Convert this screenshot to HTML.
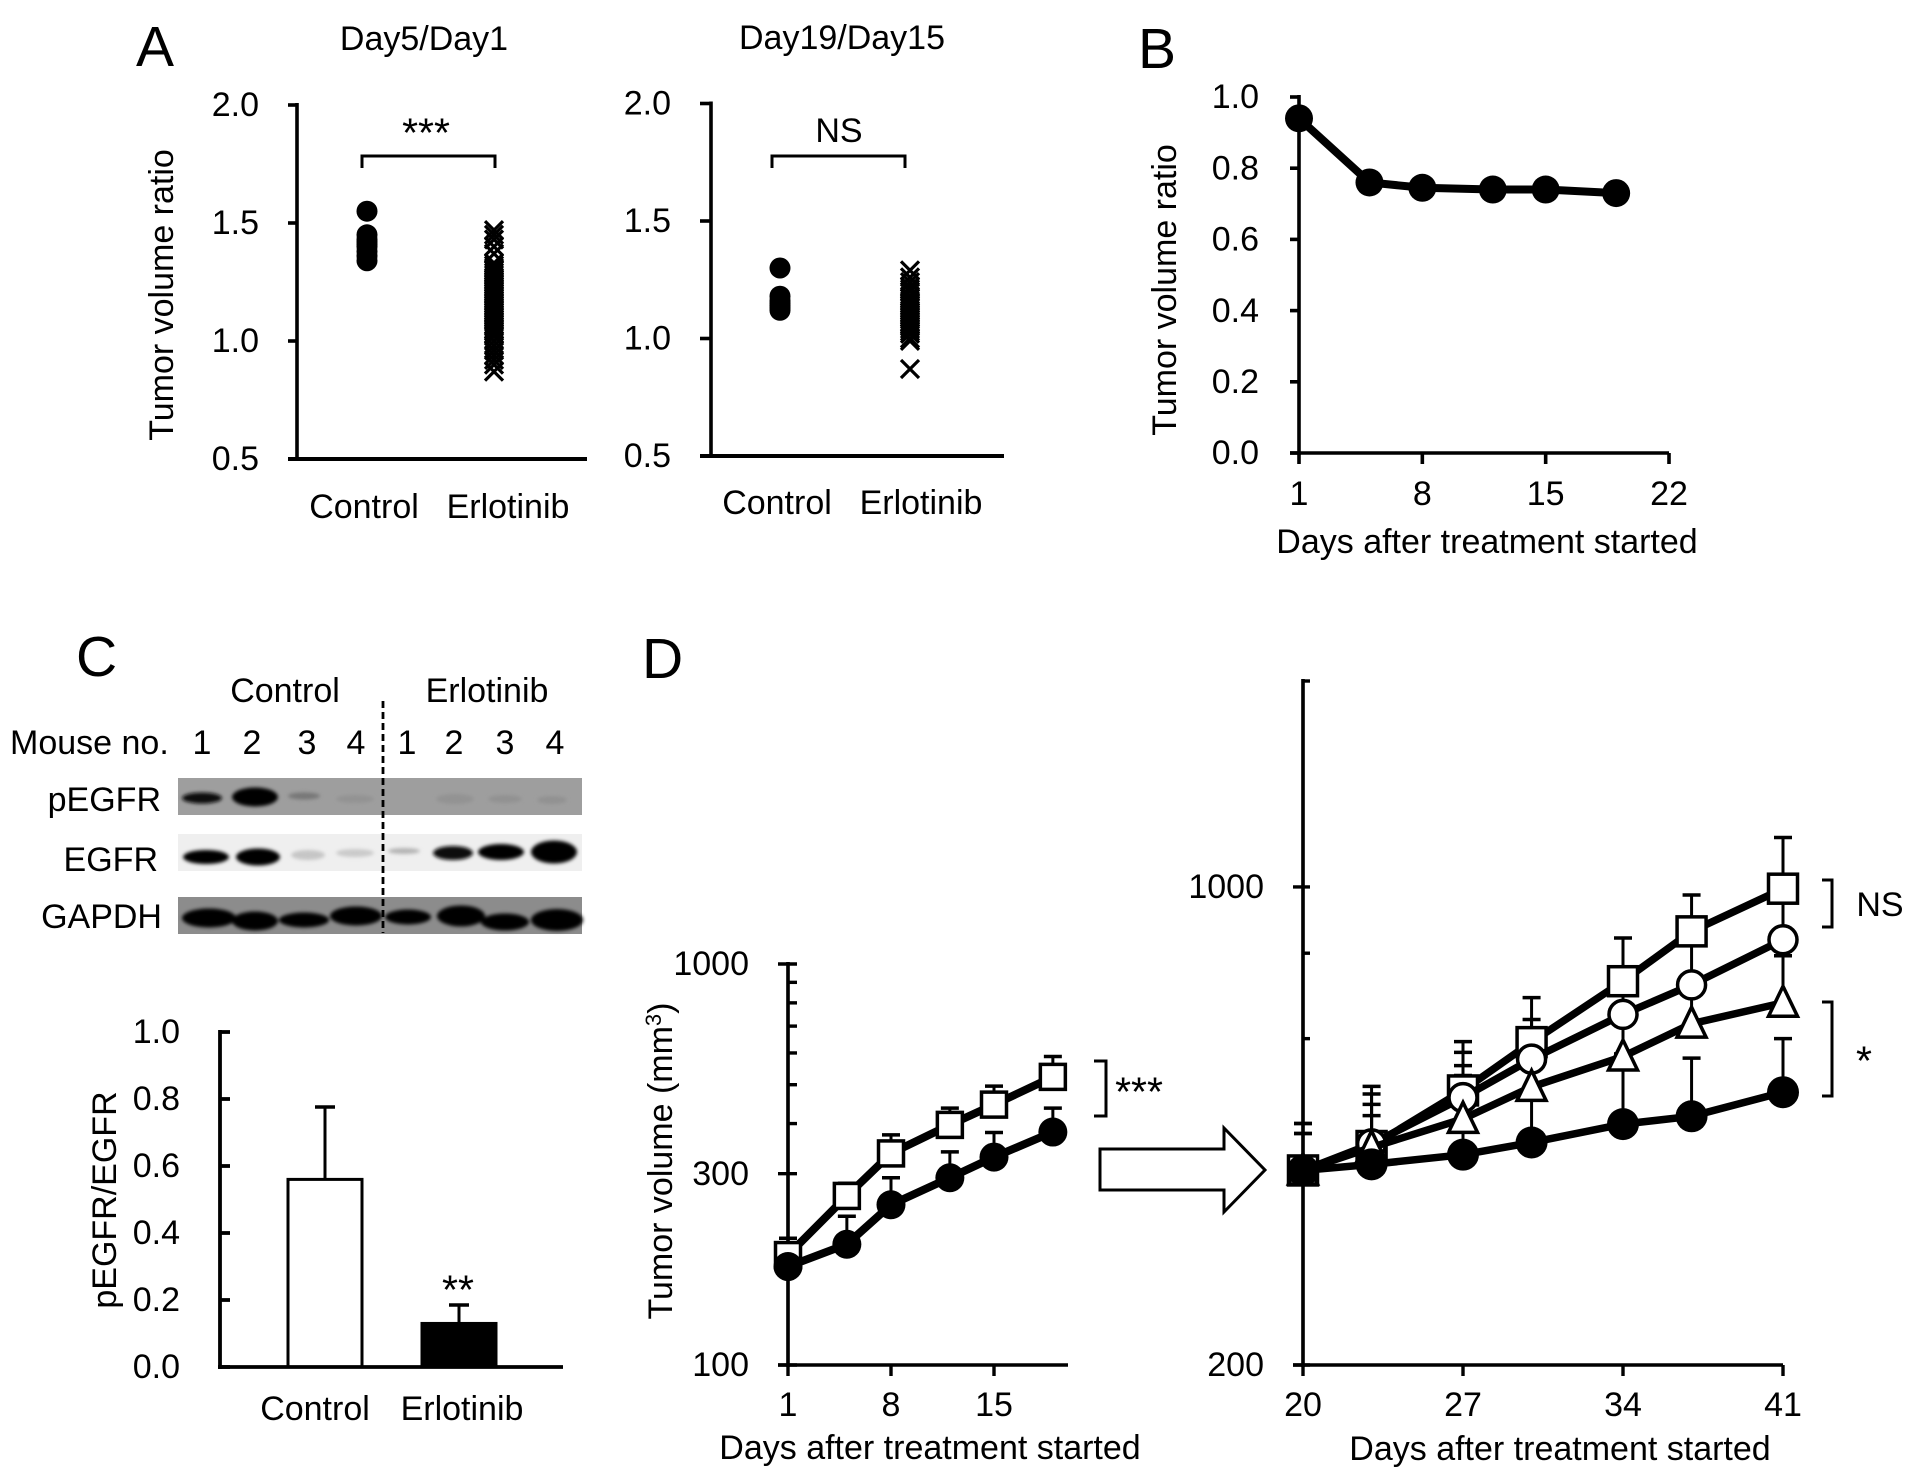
<!DOCTYPE html>
<html>
<head>
<meta charset="utf-8">
<title>Tumor volume figure</title>
<style>
html,body{margin:0;padding:0;background:#fff;}
svg{display:block;}
text{font-family:"Liberation Sans",sans-serif;font-size:34px;fill:#000;}
.letter{font-size:57px;}
.stars{font-size:41px;}
</style>
</head>
<body>
<svg id="fig" xmlns="http://www.w3.org/2000/svg" width="1913" height="1480" viewBox="0 0 1913 1480">
<defs>
<filter id="blur" x="-20%" y="-60%" width="140%" height="220%"><feGaussianBlur stdDeviation="1.8"/></filter>
</defs>
<rect width="1913" height="1480" fill="#fff"/>

<text class="letter" x="136" y="66">A</text>
<text class="letter" x="1138" y="68">B</text>
<text class="letter" x="76" y="676">C</text>
<text class="letter" x="642" y="678">D</text>

<g id="aLeft">
<text x="424" y="39" dy="0.33em" text-anchor="middle">Day5/Day1</text>
<text transform="translate(162,295) rotate(-90)" dy="0.33em" text-anchor="middle">Tumor volume ratio</text>
<path d="M362 168V156H495V168" fill="none" stroke="#000" stroke-width="3"/>
<text class="stars" x="426" y="133" dy="0.33em" text-anchor="middle">***</text>
</g>

<g id="aRight">
<text x="842" y="38" dy="0.33em" text-anchor="middle">Day19/Day15</text>
<path d="M772 168V156H905V168" fill="none" stroke="#000" stroke-width="3"/>
<text x="839" y="131" dy="0.33em" text-anchor="middle">NS</text>
</g>

<g id="bChart">
<text transform="translate(1165,290) rotate(-90)" dy="0.33em" text-anchor="middle">Tumor volume ratio</text>
<text x="1487" y="542" dy="0.33em" text-anchor="middle">Days after treatment started</text>
</g>

<g id="westernBlot">
<text x="285" y="691" dy="0.33em" text-anchor="middle">Control</text>
<text x="487" y="691" dy="0.33em" text-anchor="middle">Erlotinib</text>
<text x="10" y="743" dy="0.33em">Mouse no.</text>
<g text-anchor="middle">
<text x="202" y="743" dy="0.33em">1</text><text x="252" y="743" dy="0.33em">2</text><text x="307" y="743" dy="0.33em">3</text><text x="356" y="743" dy="0.33em">4</text>
<text x="407" y="743" dy="0.33em">1</text><text x="454" y="743" dy="0.33em">2</text><text x="505" y="743" dy="0.33em">3</text><text x="555" y="743" dy="0.33em">4</text>
</g>
<text x="161" y="800" dy="0.33em" text-anchor="end">pEGFR</text>
<text x="158" y="860" dy="0.33em" text-anchor="end">EGFR</text>
<text x="162" y="917" dy="0.33em" text-anchor="end">GAPDH</text>

<g>
<rect x="178" y="778" width="404" height="37" fill="#9e9e9e"/>
<g filter="url(#blur)">
<ellipse cx="202" cy="798" rx="20" ry="5.5" fill="#111"/>
<ellipse cx="255" cy="797" rx="23" ry="9.5" fill="#000"/>
<ellipse cx="304" cy="796" rx="16" ry="3.5" fill="#777"/>
<ellipse cx="355" cy="799" rx="19" ry="4" fill="#939393"/>
<ellipse cx="455" cy="799" rx="19" ry="5" fill="#939393"/>
<ellipse cx="505" cy="799" rx="17" ry="4" fill="#929292"/>
<ellipse cx="552" cy="800" rx="15" ry="4" fill="#929292"/>
</g>
</g>
<g>
<rect x="178" y="834" width="404" height="37" fill="#efefef"/>
<g filter="url(#blur)">
<ellipse cx="206" cy="857" rx="23" ry="7" fill="#000"/>
<ellipse cx="258" cy="857" rx="22" ry="8.5" fill="#000"/>
<ellipse cx="308" cy="855" rx="17" ry="5" fill="#c6c6c6"/>
<ellipse cx="355" cy="853" rx="19" ry="4" fill="#cacaca"/>
<ellipse cx="404" cy="851" rx="16" ry="3" fill="#b4b4b4"/>
<ellipse cx="453" cy="853" rx="20" ry="7" fill="#111"/>
<ellipse cx="501" cy="852" rx="23" ry="8" fill="#000"/>
<ellipse cx="554" cy="852" rx="23" ry="11.5" fill="#000"/>
</g>
</g>
<g>
<rect x="178" y="897" width="404" height="37" fill="#8c8c8c"/>
<g filter="url(#blur)">
<ellipse cx="209" cy="918" rx="27" ry="9.5" fill="#000"/>
<ellipse cx="255" cy="921" rx="23" ry="9.5" fill="#000"/>
<ellipse cx="304" cy="920" rx="25" ry="7.5" fill="#000"/>
<ellipse cx="356" cy="916" rx="26" ry="9.5" fill="#000"/>
<ellipse cx="408" cy="917" rx="23" ry="7.5" fill="#000"/>
<ellipse cx="461" cy="916" rx="24" ry="10.5" fill="#000"/>
<ellipse cx="505" cy="922" rx="24" ry="8.5" fill="#000"/>
<ellipse cx="557" cy="920" rx="26" ry="11" fill="#000"/>
</g>
</g>
<line x1="383" y1="701" x2="383" y2="933" stroke="#000" stroke-width="2.8" stroke-dasharray="7 4"/>
</g>

<g id="cBars">
<text transform="translate(105,1200) rotate(-90)" dy="0.33em" text-anchor="middle">pEGFR/EGFR</text>
<text class="stars" x="458" y="1290" dy="0.33em" text-anchor="middle">**</text>
</g>

<g id="dLeft">
<text transform="translate(661,1161) rotate(-90)" text-anchor="middle" dy="0.33em">Tumor volume (mm<tspan font-size="22" dy="-11">3</tspan><tspan dy="11">)</tspan></text>
<text x="930" y="1448" dy="0.33em" text-anchor="middle">Days after treatment started</text>
</g>

<g id="dRight">
<text x="1560" y="1449" dy="0.33em" text-anchor="middle">Days after treatment started</text>
</g>

<g>
<path d="M1094 1061H1106V1116H1094" fill="none" stroke="#000" stroke-width="3"/>
<text class="stars" x="1139" y="1092" dy="0.33em" text-anchor="middle">***</text>
<path d="M1100 1149H1224V1128L1265 1170L1224 1212V1190H1100Z" fill="#fff" stroke="#000" stroke-width="3"/>
<path d="M1822 880H1832V927H1822" fill="none" stroke="#000" stroke-width="3"/>
<text x="1880" y="905" dy="0.33em" text-anchor="middle">NS</text>
<path d="M1822 1002H1832V1096H1822" fill="none" stroke="#000" stroke-width="3"/>
<text class="stars" x="1864" y="1061" dy="0.33em" text-anchor="middle">*</text>
</g>
</svg>

<script>
// ---------- Panel A data ----------
const aTickLabels = ['0.5', '1.0', '1.5', '2.0'];
const aTickValues = [0.5, 1.0, 1.5, 2.0];
const aCategories = ['Control', 'Erlotinib'];
const aLeftControl = [1.55, 1.45, 1.43, 1.42, 1.41, 1.40, 1.38, 1.36, 1.34];
const aLeftErlotinib = [1.47, 1.45, 1.43, 1.40, 1.37, 1.33, 1.32, 1.31, 1.30, 1.29, 1.28, 1.27, 1.26, 1.25, 1.24, 1.23, 1.22, 1.21, 1.20, 1.19, 1.18, 1.17, 1.16, 1.15, 1.14, 1.13, 1.12, 1.11, 1.10, 1.09, 1.08, 1.07, 1.06, 1.05, 1.04, 1.03, 1.02, 1.00, 0.98, 0.96, 0.94, 0.92, 0.90, 0.87];
const aRightControl = [1.30, 1.18, 1.16, 1.15, 1.14, 1.13, 1.12];
const aRightErlotinib = [1.29, 1.26, 1.24, 1.22, 1.21, 1.20, 1.18, 1.17, 1.16, 1.15, 1.14, 1.13, 1.12, 1.11, 1.10, 1.09, 1.08, 1.07, 1.06, 1.05, 1.04, 1.03, 1.02, 1.00, 0.99, 0.87];

// ---------- Panel B data ----------
const bDays = [1, 5, 8, 12, 15, 19];
const bRatio = [0.94, 0.76, 0.745, 0.74, 0.74, 0.73];
const bYTicks = [0, 0.2, 0.4, 0.6, 0.8, 1.0];
const bYLabels = ['0.0', '0.2', '0.4', '0.6', '0.8', '1.0'];
const bXTicks = [1, 8, 15, 22];

// ---------- Panel C data ----------
const cCategories = ['Control', 'Erlotinib'];
const cValues = [0.56, 0.13];
const cErrors = [0.776, 0.185];
const cYTicks = [0, 0.2, 0.4, 0.6, 0.8, 1.0];
const cYLabels = ['0.0', '0.2', '0.4', '0.6', '0.8', '1.0'];

// ---------- Panel D early data ----------
const dLeftDays = [1, 5, 8, 12, 15, 19];
const dLeftControl = [188, 264, 337, 397, 446, 523];
const dLeftControlErr = [207, 284, 375, 437, 496, 588];
const dLeftErlotinib = [176, 200, 251, 293, 330, 381];
const dLeftErlotinibErr = [180, 235, 293, 340, 380, 437];
const dLeftMajor = [100, 300, 1000];
const dLeftMinor = [400, 500, 600, 700, 800, 900];
const dLeftXTicks = [1, 8, 15];

// ---------- Panel D late data ----------
const dRightDays = [20, 23, 27, 30, 34, 37, 41];
const dRightSquare = [385, 418, 504, 593, 728, 861, 994];
const dRightSquareErr = [451, 511, 594, 689, 842, 973, 1181];
const dRightCircle = [385, 421, 492, 560, 651, 719, 837];
const dRightCircleErr = [451, 498, 573, 640, 740, 830, 960];
const dRightTriangle = [385, 416, 458, 510, 565, 631, 677];
const dRightTriangleErr = [436, 481, 548, 590, 650, 740, 793];
const dRightBlack = [385, 393, 406, 423, 450, 462, 501];
const dRightBlackErr = [436, 463, 530, 560, 570, 562, 600];
const dRightMajor = [200, 1000];
const dRightMinor = [400, 600, 800, 2000];
const dRightXTicks = [20, 27, 34, 41];

const NS = 'http://www.w3.org/2000/svg';
function svgEl(parent, tag, attrs) {
  const el = document.createElementNS(NS, tag);
  for (const k in attrs) el.setAttribute(k, attrs[k]);
  parent.appendChild(el);
  return el;
}
function seg(parent, x1, y1, x2, y2, w) {
  return svgEl(parent, 'line', {x1: x1, y1: y1, x2: x2, y2: y2, stroke: '#000', 'stroke-width': w});
}
function label(parent, x, y, str, anchor) {
  const t = svgEl(parent, 'text', {x: x, y: y, dy: '0.33em', 'text-anchor': anchor});
  t.textContent = str;
  return t;
}
function linear(d0, d1, p0, p1) {
  return function (v) { return p0 + (v - d0) / (d1 - d0) * (p1 - p0); };
}
function logScale(d0, d1, p0, p1) {
  return function (v) { return p0 + Math.log10(v / d0) / Math.log10(d1 / d0) * (p1 - p0); };
}

// Axis helpers
function drawYAxis(parent, x, yTop, yBottom, scale, values, labels, labelRight, tickX1, tickX2, w) {
  const axis = seg(parent, x, yTop - 2, x, yBottom + 2, w);
  
  
  values.forEach(function (v, i) {
    const tick = seg(parent, tickX1, scale(v), tickX2, scale(v), w);
    
    
    if (labels) {
      const lab = label(parent, labelRight, scale(v), labels[i], 'end');
      
      
    }
  });
}
function drawXAxis(parent, y, x1, x2, w) {
  const axis = seg(parent, x1, y, x2, y, w);
  
  
}
function drawXTicks(parent, y, scale, values, tickLen, labelY, w) {
  values.forEach(function (v) {
    const tick = seg(parent, scale(v), y, scale(v), y + tickLen, w);
    
    
    const lab = label(parent, scale(v), labelY, String(v), 'middle');
    
    
  });
}
function drawDot(parent, x, y, r) {
  const c = svgEl(parent, 'circle', {cx: x, cy: y, r: r, fill: '#000'});
  
  
}
function drawCross(parent, x, y, h) {
  const p = svgEl(parent, 'path', {d: 'M' + (x - h) + ' ' + (y - h) + 'L' + (x + h) + ' ' + (y + h) + 'M' + (x + h) + ' ' + (y - h) + 'L' + (x - h) + ' ' + (y + h), stroke: '#000', 'stroke-width': 3.2, fill: 'none'});
  
  
}
function drawLine(parent, days, vals, sx, sy, w) {
  const pts = days.map(function (d, i) { return sx(d) + ',' + sy(vals[i]); }).join(' ');
  const l = svgEl(parent, 'polyline', {points: pts, fill: 'none', stroke: '#000', 'stroke-width': w});
  
  
}
function drawErrors(parent, days, vals, errs, sx, sy, cap) {
  days.forEach(function (d, i) {
    const stem = seg(parent, sx(d), sy(vals[i]), sx(d), sy(errs[i]), 3);
    
    
    const c = seg(parent, sx(d) - cap, sy(errs[i]), sx(d) + cap, sy(errs[i]), 3.5);
    
    
  });
}
function drawMarkers(parent, kind, days, vals, sx, sy, size) {
  days.forEach(function (d, i) {
    const x = sx(d), y = sy(vals[i]), h = size / 2;
    let m;
    if (kind === 'square') {
      m = svgEl(parent, 'rect', {x: x - h, y: y - h, width: size, height: size, fill: '#fff', stroke: '#000', 'stroke-width': 3.5});
    } else if (kind === 'circle') {
      m = svgEl(parent, 'circle', {cx: x, cy: y, r: h, fill: '#fff', stroke: '#000', 'stroke-width': 3.5});
    } else if (kind === 'triangle') {
      m = svgEl(parent, 'path', {d: 'M' + x + ' ' + (y - h - 2) + 'L' + (x + h) + ' ' + (y + h - 1) + 'H' + (x - h) + 'Z', fill: '#fff', stroke: '#000', 'stroke-width': 3.5});
    } else {
      m = svgEl(parent, 'circle', {cx: x, cy: y, r: h, fill: '#000'});
    }
    
    
  });
}
function drawCategoryLabels(parent, cats, xs, y) {
  cats.forEach(function (c, i) {
    const t = label(parent, xs[i], y, c, 'middle');
    
    
  });
}

// Panel A left
(function () {
  const g = document.getElementById('aLeft');
  const y = linear(0.5, 2.0, 459, 105);
  drawYAxis(g, 297, 105, 459, y, aTickValues, aTickLabels, 259, 288, 297, 3.6);
  drawXAxis(g, 459, 288, 587, 4);
  drawCategoryLabels(g, aCategories, [364, 508], 507);
  aLeftControl.forEach(function (v) { drawDot(g, 367, y(v), 10.5); });
  aLeftErlotinib.forEach(function (v) { drawCross(g, 494, y(v), 9); });
})();

// Panel A right
(function () {
  const g = document.getElementById('aRight');
  const y = linear(0.5, 2.0, 456, 103.5);
  drawYAxis(g, 711, 103.5, 456, y, aTickValues, aTickLabels, 671, 700, 711, 3.6);
  drawXAxis(g, 456, 700, 1004, 4);
  drawCategoryLabels(g, aCategories, [777, 921], 503);
  aRightControl.forEach(function (v) { drawDot(g, 780, y(v), 10.5); });
  aRightErlotinib.forEach(function (v) { drawCross(g, 910, y(v), 9); });
})();

// Panel B
(function () {
  const g = document.getElementById('bChart');
  const y = linear(0, 1, 453, 97);
  const x = linear(1, 22, 1299, 1669);
  drawYAxis(g, 1299, 97, 453, y, bYTicks, bYLabels, 1259, 1290, 1299, 3.6);
  drawXAxis(g, 453, 1290, 1669, 3.6);
  drawXTicks(g, 453, x, bXTicks, 11, 494, 3.6);
  drawLine(g, bDays, bRatio, x, y, 8);
  drawMarkers(g, 'black', bDays, bRatio, x, y, 28);
})();

// Panel C bars
(function () {
  const g = document.getElementById('cBars');
  const y = linear(0, 1, 1367, 1032);
  const centers = [325, 459];
  drawYAxis(g, 220, 1032, 1367, y, cYTicks, cYLabels, 180, 220, 230, 3.8);
  drawCategoryLabels(g, cCategories, [315, 462], 1409);
  cValues.forEach(function (v, i) {
    const stem = seg(g, centers[i], y(v), centers[i], y(cErrors[i]), 3);
    
    
    const cap = seg(g, centers[i] - 10, y(cErrors[i]), centers[i] + 10, y(cErrors[i]), 3.5);
    
    
    const bar = svgEl(g, 'rect', {x: centers[i] - 37, y: y(v), width: 74, height: 1367 - y(v), fill: i === 0 ? '#fff' : '#000', stroke: '#000', 'stroke-width': 3});
    
    
  });
  drawXAxis(g, 1367, 218, 563, 3.8);
})();

// Panel D left
(function () {
  const g = document.getElementById('dLeft');
  const y = logScale(100, 1000, 1365, 964);
  const x = linear(1, 8, 788, 891);
  drawYAxis(g, 788, 964, 1365, y, dLeftMinor, null, 0, 788, 797, 3.4);
  drawYAxis(g, 788, 964, 1365, y, dLeftMajor, dLeftMajor.map(String), 749, 778, 797, 3.4);
  drawXAxis(g, 1365, 778, 1068, 3.6);
  drawXTicks(g, 1365, x, dLeftXTicks, 11, 1405, 3.4);
  drawErrors(g, dLeftDays, dLeftControl, dLeftControlErr, x, y, 9);
  drawErrors(g, dLeftDays, dLeftErlotinib, dLeftErlotinibErr, x, y, 9);
  drawLine(g, dLeftDays, dLeftControl, x, y, 8);
  drawMarkers(g, 'square', dLeftDays, dLeftControl, x, y, 25);
  drawLine(g, dLeftDays, dLeftErlotinib, x, y, 8);
  drawMarkers(g, 'black', dLeftDays, dLeftErlotinib, x, y, 29);
})();

// Panel D right
(function () {
  const g = document.getElementById('dRight');
  const y = logScale(200, 2000, 1365, 681);
  const x = linear(20, 41, 1303, 1783);
  drawYAxis(g, 1303, 681, 1365, y, dRightMinor, null, 0, 1303, 1310, 3.4);
  drawYAxis(g, 1303, 681, 1365, y, dRightMajor, dRightMajor.map(String), 1264, 1293, 1310, 3.4);
  drawXAxis(g, 1365, 1293, 1783, 3.6);
  drawXTicks(g, 1365, x, dRightXTicks, 11, 1405, 3.4);
  drawErrors(g, dRightDays, dRightSquare, dRightSquareErr, x, y, 9);
  drawErrors(g, dRightDays, dRightCircle, dRightCircleErr, x, y, 9);
  drawErrors(g, dRightDays, dRightTriangle, dRightTriangleErr, x, y, 9);
  drawErrors(g, dRightDays, dRightBlack, dRightBlackErr, x, y, 9);
  drawLine(g, dRightDays, dRightSquare, x, y, 7.5);
  drawMarkers(g, 'square', dRightDays, dRightSquare, x, y, 29);
  drawLine(g, dRightDays, dRightCircle, x, y, 7.5);
  drawMarkers(g, 'circle', dRightDays, dRightCircle, x, y, 28);
  drawLine(g, dRightDays, dRightTriangle, x, y, 7.5);
  drawMarkers(g, 'triangle', dRightDays, dRightTriangle, x, y, 29);
  drawLine(g, dRightDays, dRightBlack, x, y, 7.5);
  drawMarkers(g, 'black', dRightDays, dRightBlack, x, y, 32);
})();
</script>
</body>
</html>
